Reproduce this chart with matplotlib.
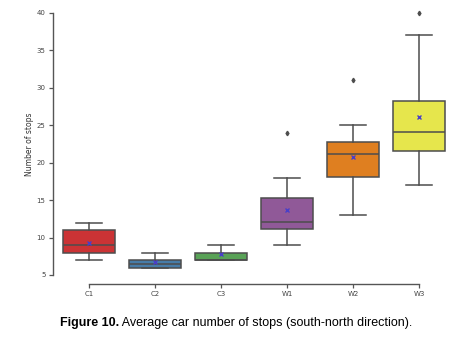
import matplotlib
matplotlib.use("Agg")
import matplotlib.pyplot as plt
import seaborn as sns

# box statistics
groups = ["C1", "C2", "C3", "W1", "W2", "W3"]
whis_lo = [7, 6, 7, 9, 13, 17]
q1 = [8, 6, 7, 11.1, 18.1, 21.6]
medians = [9, 6.5, 7, 12.1, 21.1, 24.1]
q3 = [11, 7, 8, 15.3, 22.8, 28.3]
whis_hi = [12, 8, 9, 18, 25, 37]
means = [9.3, 6.7, 7.8, 13.7, 20.8, 26.1]
outliers = [[], [], [], [24], [31], [40]]

colors = sns.color_palette("Set1", 6, desat=0.75)

stats = []
for i, g in enumerate(groups):
    stats.append(dict(label=g, whislo=whis_lo[i], q1=q1[i], med=medians[i],
                      q3=q3[i], whishi=whis_hi[i], mean=means[i],
                      fliers=outliers[i]))

fig = plt.figure(figsize=(4.72, 3.54), dpi=100)
ax = fig.add_axes([0.1186, 0.2105, 0.839, 0.7655])

line_c = "#4d4d4d"
bp = ax.bxp(stats, positions=range(len(groups)), widths=0.8, patch_artist=True,
            showmeans=True,
            boxprops=dict(edgecolor=line_c, linewidth=1.1),
            whiskerprops=dict(color=line_c, linewidth=1.1),
            capprops=dict(color=line_c, linewidth=1.1),
            medianprops=dict(color=line_c, linewidth=1.1),
            meanprops=dict(marker="x", markeredgecolor="#4a3fc8",
                           markersize=3.5, markeredgewidth=1.0),
            flierprops=dict(marker="d", markerfacecolor=line_c,
                            markeredgecolor=line_c, markersize=2.3))
for patch, c in zip(bp["boxes"], colors):
    patch.set_facecolor(c)

ax.set_xlim(-0.5, 5.5)
ax.set_ylim(4.4, 40.6)
ax.set_yticks([5, 10, 15, 20, 25, 30, 35, 40])
ax.set_xticks(range(len(groups)))
ax.set_xticklabels(groups)

for s in ["top", "right"]:
    ax.spines[s].set_visible(False)
ax.spines["left"].set_position(("outward", 2.5))
ax.spines["bottom"].set_position(("outward", 3))
ax.spines["left"].set_bounds(5, 40)
ax.spines["bottom"].set_bounds(0, 5)
for s in ["left", "bottom"]:
    ax.spines[s].set_color("#555555")
    ax.spines[s].set_linewidth(1.0)
ax.tick_params(axis="both", labelsize=5, colors="#555555", length=3,
               width=0.9, labelcolor="#444444", pad=2)
ax.set_ylabel("Number of stops", fontsize=5.5, color="#333333", labelpad=2)

# caption: bold part then normal part, squeezed to the reference width
fam = ["Liberation Sans", "DejaVu Sans"]
t1 = fig.text(0, 0.087, "Figure 10.", fontsize=10, fontweight="bold",
              family=fam, va="center")
t2 = fig.text(0, 0.087, " Average car number of stops (south-north direction).",
              fontsize=10, family=fam, va="center")
fig.canvas.draw()
r = fig.canvas.get_renderer()
w1 = t1.get_window_extent(r).width
w2 = t2.get_window_extent(r).width
k = 352 / (w1 + w2)
t1.set_fontsize(10 * k)
t2.set_fontsize(10 * k)
fig.canvas.draw()
w1 = t1.get_window_extent(r).width
w2 = t2.get_window_extent(r).width
W = fig.bbox.width
x0 = 236 - (w1 + w2) / 2
t1.set_x(x0 / W)
t2.set_x((x0 + w1) / W)

fig.savefig("out.png", dpi=100)
